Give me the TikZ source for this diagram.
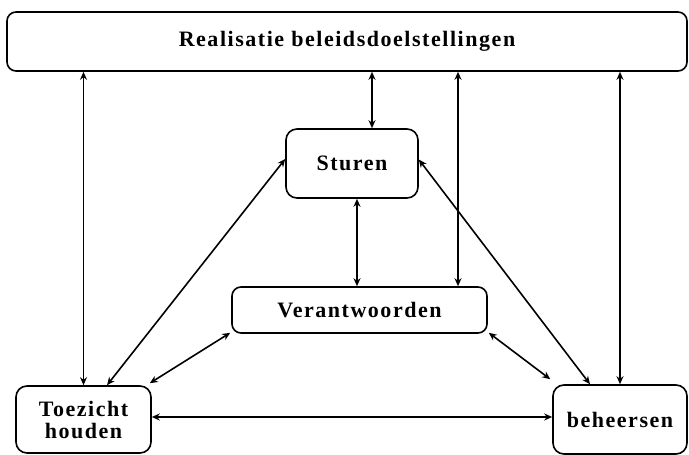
\documentclass[tikz,border=0pt]{standalone}
\usepackage{fontspec}
\setmainfont{Liberation Serif}[LetterSpace=7]
\usetikzlibrary{arrows.meta}
\begin{document}
\begin{tikzpicture}[x=1pt,y=-1pt,
  blok/.style={draw,line width=1.6pt,rounded corners=9pt,inner sep=0pt,
    font=\fontsize{22}{25}\selectfont\bfseries,align=center},
  pijl/.style={line width=1.6pt,{Stealth[length=8pt,width=7pt]}-{Stealth[length=8pt,width=7pt]}}]
\useasboundingbox (0,0) rectangle (689,455);
\node[blok,minimum width=680pt,minimum height=59pt] (top) at (347,41.5) {Realisatie beleidsdoelstellingen};
\node[blok,rounded corners=11pt,minimum width=132pt,minimum height=69pt] (sturen) at (352,163.5) {Sturen};
\node[blok,minimum width=255pt,minimum height=46pt] (verant) at (359.5,310) {Verantwoorden};
\node[blok,rounded corners=11pt,minimum width=135pt,minimum height=67pt] (toez) at (83.5,419.5) {Toezicht\\[-3pt]houden};
\node[blok,rounded corners=11pt,minimum width=134pt,minimum height=69pt] (beh) at (620,419.5) {beheersen};
% verticale verbindingen met de bovenste balk
\draw[pijl] (top.south -| toez.north) -- (toez.north);
\draw[pijl] ([xshift=20pt]sturen.north |- top.south) -- ([xshift=20pt]sturen.north);
\draw[pijl] ([xshift=98.5pt]verant.north |- top.south) -- ([xshift=98.5pt]verant.north);
\draw[pijl] (top.south -| beh.north) -- (beh.north);
% onderlinge verbindingen
\draw[pijl] ([xshift=5pt]sturen.south) -- ([xshift=5pt]sturen.south |- verant.north);
\draw[pijl] ([yshift=4.5pt]sturen.west) -- ([xshift=23.5pt]toez.north);
\draw[pijl] ([xshift=-1pt,yshift=1pt]verant.south west) -- ([xshift=-2pt,yshift=2pt]toez.north east);
\draw[pijl] ([yshift=4pt]sturen.east) -- ([xshift=-30pt]beh.north);
\draw[pijl] ([xshift=1pt,yshift=1pt]verant.south east) -- ([xshift=-2pt,yshift=5pt]beh.north west);
\draw[pijl] ([yshift=2.5pt]toez.east) -- ([yshift=2.5pt]beh.west);
\end{tikzpicture}
\end{document}
